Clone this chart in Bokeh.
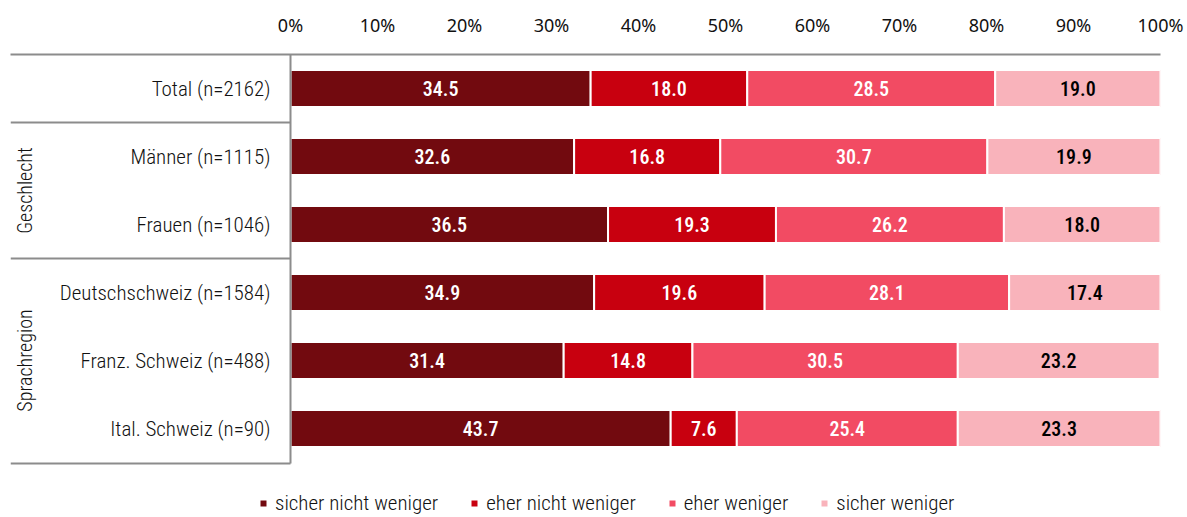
import numpy as np
from bokeh.plotting import figure
from bokeh.models import ColumnDataSource, Range1d, FixedTicker, Legend, LegendItem
from bokeh.core.properties import value
from bokeh.embed import file_html
from bokeh.resources import INLINE

categories = ["Total (n=2162)", "Männer (n=1115)", "Frauen (n=1046)",
              "Deutschschweiz (n=1584)", "Franz. Schweiz (n=488)", "Ital. Schweiz (n=90)"]
series_names = ["sicher nicht weniger", "eher nicht weniger", "eher weniger", "sicher weniger"]
sicher_nicht = [34.5, 32.6, 36.5, 34.9, 31.4, 43.7]
eher_nicht = [18.0, 16.8, 19.3, 19.6, 14.8, 7.6]
eher_weniger = [28.5, 30.7, 26.2, 28.1, 30.5, 25.4]
sicher_weniger = [19.0, 19.9, 18.0, 17.4, 23.2, 23.3]
groups = ["Geschlecht", "Sprachregion"]
tick_values = [0, 10, 20, 30, 40, 50, 60, 70, 80, 90, 100]
tick_labels = [f"{t}%" for t in tick_values]

colors = ["#720A0F", "#C8000F", "#F24B63", "#F9B3BB"]
label_colors = ["white", "white", "white", "black"]

FONT_MED = "Roboto Condensed Medium, Roboto Condensed"
FONT_LIGHT = "Roboto Condensed Light, Roboto Condensed"

ypos = list(range(len(categories)))
keys = ["s0", "s1", "s2", "s3"]
data = dict(y=ypos, s0=sicher_nicht, s1=eher_nicht, s2=eher_weniger, s3=sicher_weniger)
source = ColumnDataSource(data)

x_start = -280 / 8.7
y_bottom = 5.515
H = 517
TOP = 54
frame_h = H - TOP
p = figure(width=1185, height=H, output_backend="svg", toolbar_location=None,
           x_range=Range1d(x_start, 100), y_range=Range1d(-0.5 + frame_h / 68.0, -0.5),
           x_axis_location="above", y_axis_location=None,
           min_border_left=10, min_border_right=25, min_border_top=TOP, min_border_bottom=0)
p.outline_line_color = None
p.grid.visible = False

rs = p.hbar_stack(keys, y="y", height=0.545, color=colors, line_color="white",
                  line_width=2, source=source)

# value labels
vals = [sicher_nicht, eher_nicht, eher_weniger, sicher_weniger]
cum = np.zeros(len(categories))
for i, v in enumerate(vals):
    v = np.array(v)
    mid = cum + v / 2
    cum = cum + v
    p.text(x=mid, y=ypos, text=[f"{a:.1f}" for a in v], text_align="center",
           text_baseline="middle", text_color=label_colors[i],
           text_font=value(FONT_MED), text_font_size="20px")

# category labels
p.text(x=[-2.3] * len(categories), y=ypos, text=categories, text_align="right",
       text_baseline="middle", text_font=value(FONT_LIGHT), text_font_size="21px",
       text_color="#111111")

# group labels
p.text(x=[-30.5, -30.5], y=[1.5, 4.0], text=groups, angle=np.pi / 2,
       text_align="center", text_baseline="middle", text_font=value(FONT_LIGHT),
       text_font_size="20px", text_color="#111111")

# separators
p.segment(x0=[x_start, x_start, x_start, 0], y0=[0.5, 2.5, y_bottom, -0.5],
          x1=[0, 0, 0, 0], y1=[0.5, 2.5, y_bottom, y_bottom],
          line_color="#8C8C8C", line_width=2)

ax = p.xaxis[0]
ax.ticker = FixedTicker(ticks=tick_values)
ax.major_label_overrides = {t: l for t, l in zip(tick_values, tick_labels)}
ax.major_tick_line_color = None
ax.minor_tick_line_color = None
ax.axis_line_color = "#8C8C8C"
ax.axis_line_width = 2
ax.major_label_standoff = 12
ax.major_label_text_font = "Noto Sans"
ax.major_label_text_font_size = "18px"
ax.major_label_text_color = "#111111"

legend = Legend(items=[LegendItem(label=n, renderers=[r]) for n, r in zip(series_names, rs)],
                orientation="horizontal", location=(246, 0),
                glyph_width=10, glyph_height=10, label_text_font=FONT_LIGHT,
                label_text_font_size="21px", label_text_color="#111111",
                border_line_alpha=0, background_fill_alpha=0, spacing=31,
                label_standoff=7, padding=2, margin=0)
p.add_layout(legend, "center")

open("out.html", "w").write(file_html(p, INLINE))
